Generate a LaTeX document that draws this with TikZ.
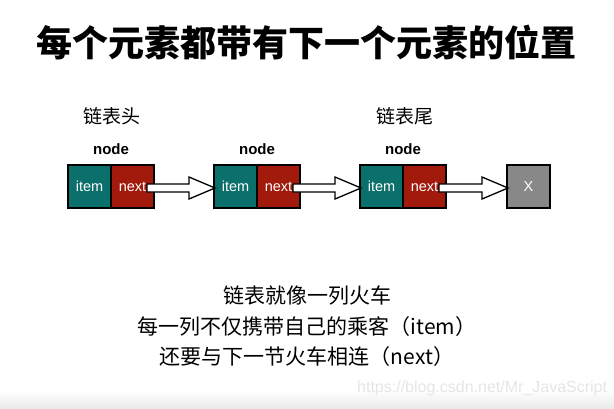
\documentclass[tikz,border=0pt]{standalone}
\usepackage{fontspec}
\setmainfont{Liberation Sans}
\newfontfamily\cjk{Noto Sans CJK SC}
\usetikzlibrary{calc}

\begin{document}
\begin{tikzpicture}[x = 1pt, y = -1pt]
			\definecolor{itemTeal}{HTML}{0B6F6C}
			\definecolor{nextRed}{HTML}{A21A0C}
			\definecolor{tailGray}{HTML}{888888}
			\useasboundingbox (0,0) rectangle (614,408);
			\shade[top color = white, bottom color = black!8] (0,390) rectangle (614,408);
			
			\node (title) at (307,43) {\cjk\bfseries\fontsize{36}{40}\selectfont 每个元素都带有下一个元素的位置};
			
			\foreach \i/\x in {1/89.5, 2/235.5, 3/381.5}{
				
				\node[draw, line width = 1.5pt, fill = itemTeal, text = white, minimum width = 43pt, minimum height = 43pt, inner sep = 0pt, outer sep = 0pt, font = \fontsize{14.5}{16}\selectfont] (item\i) at (\x,186.5) {item};
				\node[draw, line width = 1.5pt, fill = nextRed, text = white, minimum width = 43pt, minimum height = 43pt, inner sep = 0pt, outer sep = 0pt, font = \fontsize{14.5}{16}\selectfont, anchor = west] (next\i) at (item\i.east) {next};
				\node[font = \bfseries\fontsize{15}{17}\selectfont] (label\i) at (\x+21.5,149) {node};
			}
			
			\node[draw, line width = 1.5pt, fill = tailGray, text = white, minimum width = 43pt, minimum height = 43pt, inner sep = 0pt, outer sep = 0pt, font = \fontsize{14.5}{16}\selectfont] (tail) at (528.5,186.5) {X};
			
			\node (head) at (112,116) {\cjk\fontsize{19}{21}\selectfont 链表头};
			\node (rear) at (405,116) {\cjk\fontsize{19}{21}\selectfont 链表尾};
			
			% hollow arrows between the nodes
			\foreach \a/\b in {next1/item2, next2/item3, next3/tail}{
				
				\draw[line width = 1.3pt, fill = white, line join = miter] let \p1 = (\a.east), \p2 = (\b.west) in
					(\x1-7pt,\y1+2.5pt) -- (\x2-25pt,\y1+2.5pt) -- (\x2-25pt,\y1+9.5pt) -- (\x2+1pt,\y1-1.5pt)
					-- (\x2-25pt,\y1-12.5pt) -- (\x2-25pt,\y1-5.5pt) -- (\x1-7pt,\y1-5.5pt) -- cycle;
			}
			
			\node (line1) at (307,296) {\cjk\fontsize{21}{24}\selectfont 链表就像一列火车};
			\node (line2) at (307,327) {\cjk\fontsize{21}{24}\selectfont 每一列不仅携带自己的乘客（item）};
			\node (line3) at (307,357) {\cjk\fontsize{21}{24}\selectfont 还要与下一节火车相连（next）};
			
			\node[anchor = west, text = black!10, inner sep = 0pt, font = \fontsize{16}{18}\selectfont] (mark) at (357,388) {https://blog.csdn.net/Mr\_JavaScript};
		\end{tikzpicture}
\end{document}
